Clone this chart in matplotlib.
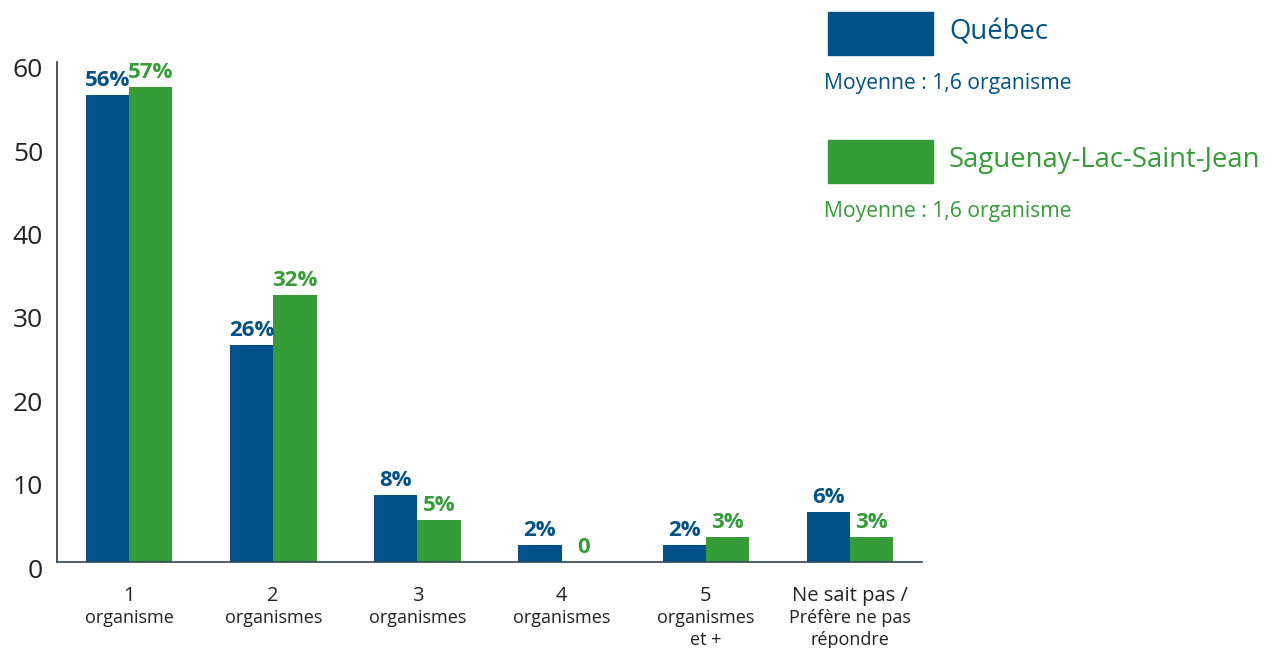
import matplotlib
matplotlib.use("Agg")
import matplotlib.pyplot as plt
import matplotlib.transforms as mtransforms
from matplotlib.patches import Rectangle
import numpy as np

plt.rcParams['font.family'] = ['Open Sans', 'DejaVu Sans']

categories_top = ["1", "2", "3", "4", "5", "Ne sait pas /"]
categories_rest = ["organisme", "organismes", "organismes", "organismes",
                   "organismes\net +", "Préfère ne pas\nrépondre"]
quebec = [56, 26, 8, 2, 2, 6]
saguenay = [57, 32, 5, 0, 3, 3]
quebec_labels = ["56%", "26%", "8%", "2%", "2%", "6%"]
saguenay_labels = ["57%", "32%", "5%", "0", "3%", "3%"]
yticks = [0, 10, 20, 30, 40, 50, 60]
series_names = ["Québec", "Saguenay-Lac-Saint-Jean"]
means = ["Moyenne : 1,6 organisme", "Moyenne : 1,6 organisme"]

BLUE = "#005288"
GREEN = "#369C37"
TXT = "#222222"

fig = plt.figure(figsize=(12.72, 6.48), dpi=100)
ax = fig.add_axes([57/1272, 1 - 562/648, (922-57)/1272, (562-62)/648])

x = np.arange(len(categories_top))
w = 0.3
bq = ax.bar(x - w/2, quebec, w, color=BLUE)
bs = ax.bar(x + w/2, saguenay, w, color=GREEN)

for xi, v, lab in zip(x, quebec, quebec_labels):
    ax.annotate(lab, (xi - w/2, v), xytext=(0, 3), textcoords="offset points",
                ha="center", va="bottom", color=BLUE, fontsize=16, fontweight="bold")
for xi, v, lab in zip(x, saguenay, saguenay_labels):
    ax.annotate(lab, (xi + w/2, v), xytext=(0, 3), textcoords="offset points",
                ha="center", va="bottom", color=GREEN, fontsize=16, fontweight="bold")

ax.set_xlim(-0.5, 5.5)
ax.set_ylim(0, 60)
ax.set_yticks(yticks)
ax.set_yticklabels([str(t) for t in yticks], fontsize=19, color=TXT)
ax.tick_params(axis="y", length=0, pad=10)
off = mtransforms.ScaledTranslation(0, -6/100, fig.dpi_scale_trans)
for lbl in ax.get_yticklabels():
    lbl.set_transform(lbl.get_transform() + off)

ax.set_xticks(x)
ax.set_xticklabels(categories_top, fontsize=14.5, color=TXT)
ax.tick_params(axis="x", length=0, pad=17)
trans = mtransforms.blended_transform_factory(ax.transData, ax.transAxes)
for xi, rest in zip(x, categories_rest):
    ax.text(xi, -0.094, rest, transform=trans, ha="center", va="top",
            fontsize=13, color=TXT, linespacing=1.3)

for s in ["top", "right"]:
    ax.spines[s].set_visible(False)
ax.spines["left"].set_color("#333333")
ax.spines["bottom"].set_color("#2F4858")
ax.spines["left"].set_linewidth(1.2)
ax.spines["bottom"].set_linewidth(1.2)

# legend
for (ytop, col, name, mean) in [(12, BLUE, series_names[0], means[0]),
                                (140, GREEN, series_names[1], means[1])]:
    fig.patches.append(Rectangle((828/1272, 1 - (ytop+43)/648), 105/1272, 43/648,
                                 transform=fig.transFigure, color=col))
    fig.text(949/1272, 1 - (ytop+20)/648, name, color=col, fontsize=19.8,
             ha="left", va="center")
    fig.text(824/1272, 1 - (ytop+71)/648, mean, color=col, fontsize=15.2,
             ha="left", va="center")

fig.savefig("out.png", dpi=100)
